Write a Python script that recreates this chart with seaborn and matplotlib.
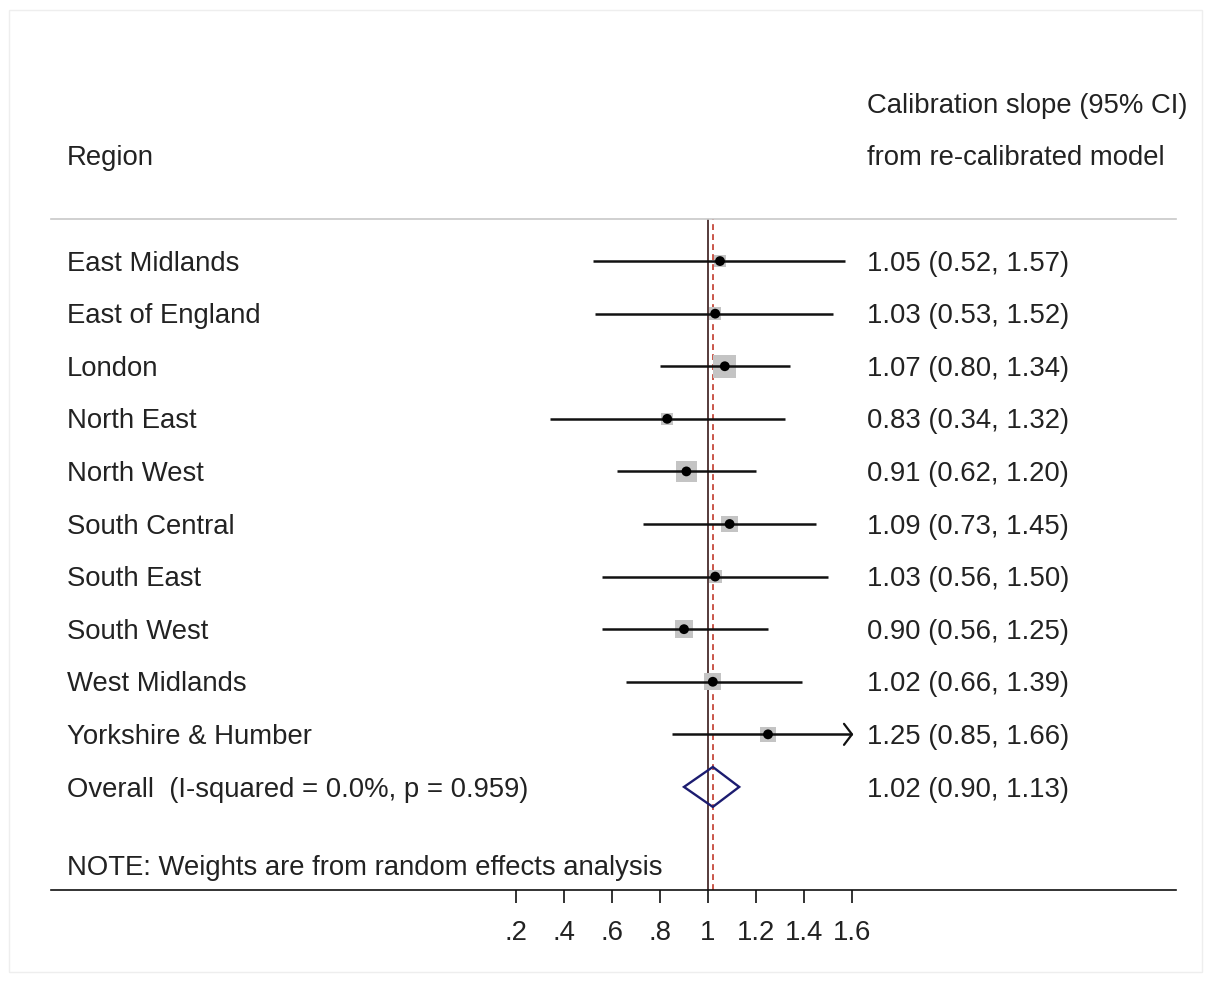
import numpy as np
import pandas as pd
import matplotlib
matplotlib.use("Agg")
import matplotlib.pyplot as plt
from matplotlib.patches import Polygon, Rectangle
import seaborn as sns

# Study-level results
regions = ["East Midlands", "East of England", "London", "North East", "North West",
           "South Central", "South East", "South West", "West Midlands", "Yorkshire & Humber"]
slope = [1.05, 1.03, 1.07, 0.83, 0.91, 1.09, 1.03, 0.90, 1.02, 1.25]
ci_low = [0.52, 0.53, 0.80, 0.34, 0.62, 0.73, 0.56, 0.56, 0.66, 0.85]
ci_high = [1.57, 1.52, 1.34, 1.32, 1.20, 1.45, 1.50, 1.25, 1.39, 1.66]
weights = [5.0, 5.7, 19.1, 5.8, 16.6, 10.7, 6.3, 11.7, 10.5, 8.5]

# Pooled estimate
overall_label = "Overall  (I-squared = 0.0%, p = 0.959)"
overall = 1.02
overall_low = 0.90
overall_high = 1.13

xticks = [0.2, 0.4, 0.6, 0.8, 1.0, 1.2, 1.4, 1.6]
xtick_labels = [".2", ".4", ".6", ".8", "1", "1.2", "1.4", "1.6"]
x_max_shown = 1.6

sns.set_theme(style="white")
plt.rcParams["font.family"] = ["Liberation Sans", "DejaVu Sans"]

W, H = 1205, 987
fig = plt.figure(figsize=(W / 100, H / 100), dpi=100)
fig.patch.set_facecolor("white")

# axes box in pixel terms
left_px, right_px, top_px, bottom_px = 51, 1176, 220, 891
ax = fig.add_axes([left_px / W, 1 - bottom_px / H, (right_px - left_px) / W, (bottom_px - top_px) / H])
ax.set_facecolor("white")

# x scale: 240 px per unit, 1.0 sits at 708 px
ppu = 240.0
ax.set_xlim(1 + (left_px - 708) / ppu, 1 + (right_px - 708) / ppu)
ax.set_ylim(11.96, -0.8)

txt_col = "#222222"
fs = 19.8
ty = 0.03  # small downward nudge so glyphs sit centred on each row

df = pd.DataFrame({"region": regions, "slope": slope, "lo": ci_low, "hi": ci_high, "w": weights})
df["row"] = np.arange(len(df))

# reference lines
ax.axvline(1.0, color="#3a1a1a", lw=1.2, zorder=1)
ax.axvline(overall, color="#c0392b", lw=1.2, ls=(0, (3.5, 2.5)), zorder=1)

# weight boxes
k = 14.0
sns.scatterplot(data=df, x="slope", y="row", size="w", sizes=(k * min(weights), k * max(weights)),
                size_norm=(min(weights), max(weights)), marker="s", color="#c4c4c4",
                edgecolor="none", legend=False, ax=ax, zorder=2)

# confidence intervals (clipped at the axis limit with an arrow)
for _, r in df.iterrows():
    hi = min(r["hi"], x_max_shown)
    ax.plot([r["lo"], hi], [r["row"], r["row"]], color="#111111", lw=1.8, zorder=3,
            solid_capstyle="butt")
    if r["hi"] > x_max_shown:
        dx = 8 / ppu
        ax.plot([hi - dx, hi, hi - dx], [r["row"] - 0.2, r["row"], r["row"] + 0.2],
                color="#111111", lw=1.6, zorder=3)

# point estimates
sns.scatterplot(data=df, x="slope", y="row", marker="o", s=50, color="black",
                edgecolor="none", legend=False, ax=ax, zorder=4)

# pooled diamond
orow = len(df)
diamond = Polygon([[overall_low, orow], [overall, orow - 0.38], [overall_high, orow],
                   [overall, orow + 0.38]], closed=True, fill=False, edgecolor="#1c1c70",
                  lw=1.7, zorder=4)
ax.add_patch(diamond)

# text columns
x_left = 1 + (67 - 708) / ppu
x_right = 1 + (867 - 708) / ppu
for _, r in df.iterrows():
    ax.text(x_left, r["row"] + ty, r["region"], ha="left", va="center", fontsize=fs, color=txt_col)
    ax.text(x_right, r["row"] + ty, f"{r['slope']:.2f} ({r['lo']:.2f}, {r['hi']:.2f})",
            ha="left", va="center", fontsize=fs, color=txt_col)
ax.text(x_left, orow + ty, overall_label, ha="left", va="center", fontsize=fs, color=txt_col)
ax.text(x_right, orow + ty, f"{overall:.2f} ({overall_low:.2f}, {overall_high:.2f})",
        ha="left", va="center", fontsize=fs, color=txt_col)
ax.text(x_left, 11.5 + ty, "NOTE: Weights are from random effects analysis", ha="left",
        va="center", fontsize=fs, color=txt_col)

# headers above the plot region
ax.text(x_left, -2.0 + ty, "Region", ha="left", va="center", fontsize=fs, color=txt_col, clip_on=False)
ax.text(x_right, -3.0 + ty, "Calibration slope (95% CI)", ha="left", va="center", fontsize=fs,
        color=txt_col, clip_on=False)
ax.text(x_right, -2.0 + ty, "from re-calibrated model", ha="left", va="center", fontsize=fs,
        color=txt_col, clip_on=False)

# spines and ticks
for s in ["left", "right"]:
    ax.spines[s].set_visible(False)
ax.spines["top"].set_color("#c8c8c8")
ax.spines["top"].set_linewidth(1.2)
ax.spines["bottom"].set_color("#111111")
ax.spines["bottom"].set_linewidth(1.2)
ax.set_yticks([])
ax.set_xticks(xticks)
ax.set_xticklabels(xtick_labels, fontsize=fs, color=txt_col)
ax.tick_params(axis="x", direction="out", length=9, width=1.2, color="#111111", pad=12, bottom=True)
ax.set_xlabel("")
ax.set_ylabel("")

# faint outer frame
fig.patches.append(Rectangle((9 / W, 1 - 973 / H), (1202 - 9) / W, (973 - 11) / H,
                             transform=fig.transFigure, fill=False, edgecolor="#eeeeee", lw=1.0))

fig.savefig("out.png", dpi=100, facecolor="white")
